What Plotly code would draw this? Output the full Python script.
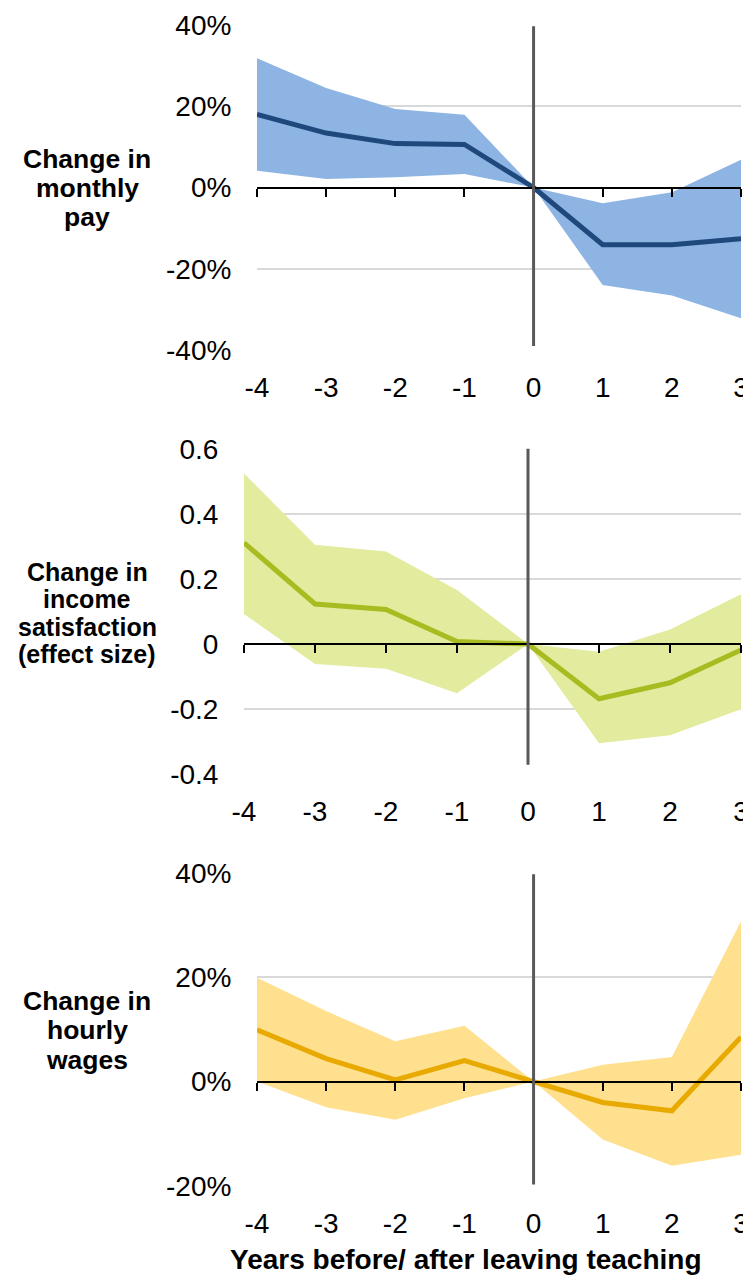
import plotly.graph_objects as go

# the page body has an 8px margin, so the figure is drawn 8px in from the top-left
OFF = 8
W, H = 751 - OFF, 1276 - OFF

years = [-4, -3, -2, -1, 0, 1, 2, 3]
year_labels = ["-4", "-3", "-2", "-1", "0", "1", "2", "3"]

# monthly pay, % change
pay_mid = [18.0, 13.4, 10.8, 10.6, 0.0, -14.1, -14.1, -12.6]
pay_hi = [31.8, 24.5, 19.3, 17.9, 0.0, -3.9, -1.2, 6.8]
pay_lo = [4.1, 2.1, 2.5, 3.3, 0.0, -24.0, -26.6, -32.2]
pay_ticks = [-40, -20, 0, 20, 40]
pay_ticktext = ["-40%", "-20%", "0%", "20%", "40%"]

# income satisfaction, effect size
sat_mid = [0.311, 0.123, 0.106, 0.008, 0.0, -0.168, -0.119, -0.018]
sat_hi = [0.524, 0.305, 0.284, 0.166, 0.0, -0.024, 0.045, 0.153]
sat_lo = [0.092, -0.061, -0.076, -0.151, 0.0, -0.305, -0.280, -0.200]
sat_ticks = [-0.4, -0.2, 0, 0.2, 0.4, 0.6]
sat_ticktext = ["-0.4", "-0.2", "0", "0.2", "0.4", "0.6"]

# hourly wages, % change
wage_mid = [9.9, 4.4, 0.3, 4.0, 0.0, -4.0, -5.6, 8.5]
wage_hi = [19.9, 13.5, 7.7, 10.7, 0.0, 3.2, 4.7, 30.7]
wage_lo = [0.0, -4.9, -7.3, -3.2, 0.0, -11.1, -16.1, -14.0]
wage_ticks = [-20, 0, 20, 40]
wage_ticktext = ["-20%", "0%", "20%", "40%"]

FONT = "Liberation Sans, Arial, sans-serif"
TICK = 28


def px_x(v):
    return (v - OFF) / W


def px_y(v):
    return 1 - (v - OFF) / H


# (mid, hi, lo, ticks, ticktext, yrange, vline range, band colour, line colour,
#  x domain px, y domain px top/bottom, title lines, title font, title centre y px, line step)
panels = [
    (pay_mid, pay_hi, pay_lo, pay_ticks, pay_ticktext, [-40, 40], [-39, 39.7],
     "#8eb4e3", "#1f497d", (257, 741), (25, 350),
     ["Change in", "monthly", "pay"], 26.5, 188, 29.5),
    (sat_mid, sat_hi, sat_lo, sat_ticks, sat_ticktext, [-0.4, 0.6], [-0.371, 0.614],
     "#e3eb9e", "#a8bc21", (244, 741), (448.7, 774.3),
     ["Change in", "income", "satisfaction", "(effect size)"], 25, 613, 27.5),
    (wage_mid, wage_hi, wage_lo, wage_ticks, wage_ticktext, [-20, 40], [-19.7, 39.7],
     "#ffe08f", "#e8aa00", (257, 741), (872.7, 1186),
     ["Change in", "hourly", "wages"], 26.5, 1030, 29.5),
]

fig = go.Figure()
layout = dict(
    width=W,
    height=H,
    margin=dict(l=0, r=0, t=0, b=0),
    paper_bgcolor="white",
    plot_bgcolor="white",
    showlegend=False,
    font=dict(family=FONT, size=TICK, color="black"),
    shapes=[],
    annotations=[],
)

for i, (mid, hi, lo, ticks, ticktext, yr, vr, band, line, xd, yd, title, tsize, ty, step) in enumerate(panels):
    n = i + 1
    xa = "x" if n == 1 else f"x{n}"
    ya = "y" if n == 1 else f"y{n}"
    xo = f"x{n + 3}"
    dom_x = [px_x(xd[0]), px_x(xd[1])]
    dom_y = [px_y(yd[1]), px_y(yd[0])]

    fig.add_trace(go.Scatter(x=years, y=lo, mode="lines", line=dict(width=0, color=band),
                             xaxis=xa, yaxis=ya, hoverinfo="skip"))
    fig.add_trace(go.Scatter(x=years, y=hi, mode="lines", line=dict(width=0, color=band),
                             fill="tonexty", fillcolor=band, xaxis=xa, yaxis=ya, hoverinfo="skip"))
    fig.add_trace(go.Scatter(x=years, y=mid, mode="lines", line=dict(width=5, color=line),
                             xaxis=xa, yaxis=ya))
    # invisible trace to carry the zero-level axis with ticks
    fig.add_trace(go.Scatter(x=years, y=[0] * len(years), mode="lines",
                             line=dict(width=0), opacity=0, xaxis=xo, yaxis=ya, hoverinfo="skip"))

    layout["xaxis" + ("" if n == 1 else str(n))] = dict(
        domain=dom_x, anchor=ya, range=[-4, 3], tickvals=years, ticktext=year_labels,
        showgrid=False, zeroline=False, showline=False,
        ticks="outside", ticklen=12, tickcolor="rgba(0,0,0,0)",
        tickfont=dict(size=TICK), automargin=False,
    )
    zero_pos = dom_y[0] + (0 - yr[0]) / (yr[1] - yr[0]) * (dom_y[1] - dom_y[0])
    layout[f"xaxis{n + 3}"] = dict(
        domain=dom_x, overlaying=xa, anchor="free", position=zero_pos,
        range=[-4, 3], tickvals=years, showticklabels=False,
        showline=True, linecolor="black", linewidth=2,
        ticks="outside", ticklen=8, tickwidth=2, tickcolor="black",
        showgrid=False, zeroline=False,
    )
    layout["yaxis" + ("" if n == 1 else str(n))] = dict(
        domain=dom_y, anchor=xa, range=yr, tickvals=ticks, ticktext=ticktext,
        showgrid=True, gridcolor="#d9d9d9", gridwidth=2, zeroline=False, showline=False,
        ticks="outside", ticklen=19, tickcolor="rgba(0,0,0,0)",
        tickfont=dict(size=TICK), automargin=False,
    )
    layout["shapes"].append(dict(
        type="line", xref=xa, yref=ya, x0=0, x1=0, y0=vr[0], y1=vr[1],
        line=dict(color="#595959", width=3), layer="above",
    ))
    first = ty - step * (len(title) - 1) / 2
    for k, txt in enumerate(title):
        layout["annotations"].append(dict(
            text=txt, xref="paper", yref="paper", x=px_x(87), y=px_y(first + k * step),
            xanchor="center", yanchor="middle", showarrow=False,
            font=dict(family=FONT, size=tsize, color="black", weight="bold"),
        ))

layout["annotations"].append(dict(
    text="Years before/ after leaving teaching", xref="paper", yref="paper",
    x=px_x(466), y=px_y(1259), xanchor="center", yanchor="middle", showarrow=False,
    font=dict(family=FONT, size=28, color="black", weight="bold"),
))

fig.update_layout(**layout)
fig.write_html("out.html")
